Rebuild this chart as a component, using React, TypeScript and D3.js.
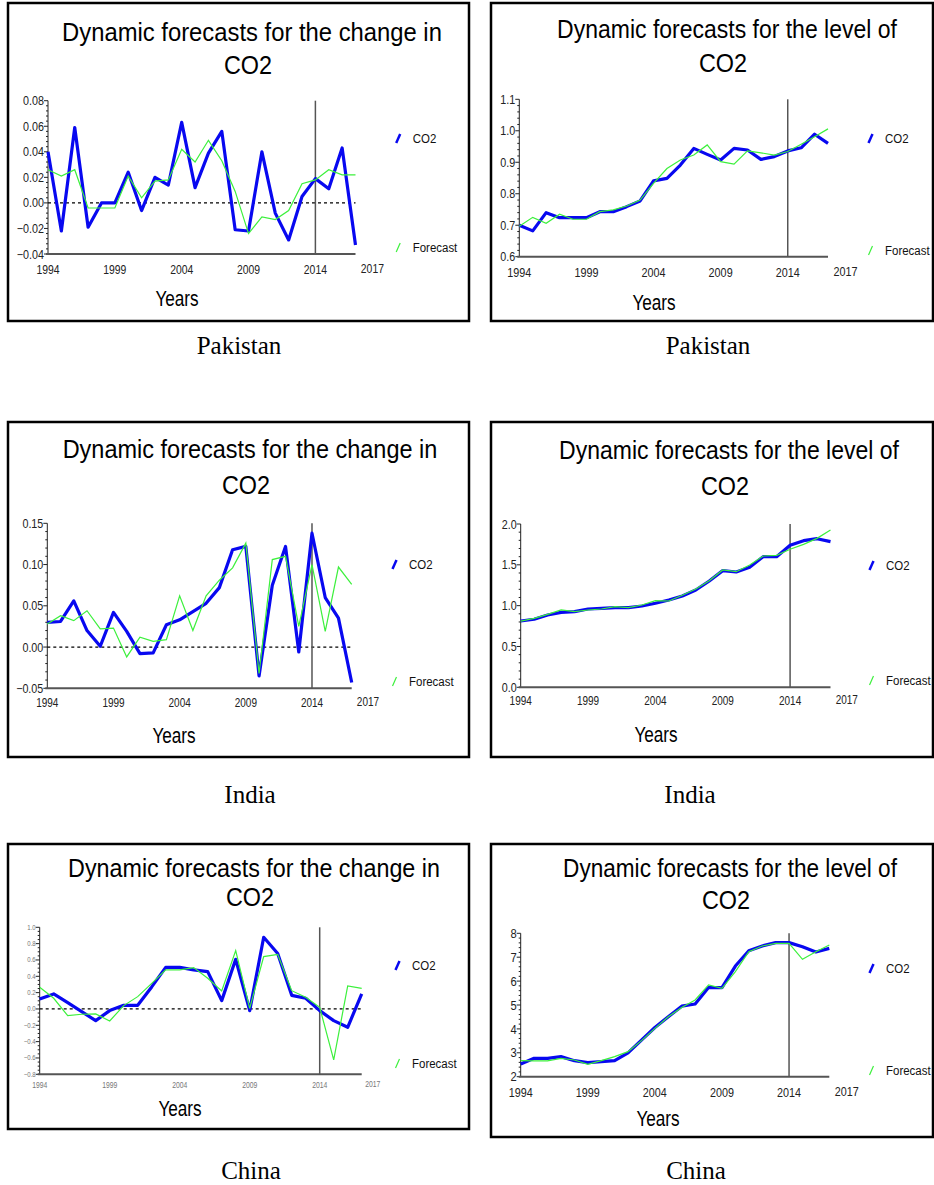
import { useEffect, useRef } from 'react';
import * as d3 from 'd3';

// years on the x axis (one point per year)
const years = [1994, 1995, 1996, 1997, 1998, 1999, 2000, 2001, 2002, 2003, 2004, 2005,
  2006, 2007, 2008, 2009, 2010, 2011, 2012, 2013, 2014, 2015, 2016, 2017];
const yearLabels = [1994, 1999, 2004, 2009, 2014];
const endYearLabel = '2017';
const splitYear = 2014;

// Pakistan
const pakChangeActual = [0.040, -0.022, 0.059, -0.019, 0.000, 0.000, 0.024, -0.006, 0.020, 0.014, 0.063, 0.012,
  0.039, 0.056, -0.021, -0.022, 0.040, -0.008, -0.029, 0.005, 0.019, 0.011, 0.043, -0.033];
const pakChangeForecast = [0.026, 0.021, 0.026, -0.004, -0.004, -0.004, 0.021, 0.004, 0.017, 0.018, 0.042, 0.032,
  0.049, 0.033, 0.009, -0.024, -0.011, -0.013, -0.006, 0.015, 0.018, 0.026, 0.022, 0.022];
const pakLevelActual = [0.700, 0.682, 0.740, 0.724, 0.724, 0.724, 0.743, 0.743, 0.759, 0.777, 0.841, 0.849,
  0.891, 0.944, 0.925, 0.907, 0.944, 0.939, 0.909, 0.918, 0.936, 0.946, 0.989, 0.960];
const pakLevelForecast = [0.697, 0.725, 0.706, 0.735, 0.719, 0.719, 0.743, 0.749, 0.761, 0.780, 0.833, 0.880,
  0.907, 0.923, 0.955, 0.902, 0.894, 0.936, 0.930, 0.923, 0.934, 0.957, 0.981, 1.006];

// India
const indChangeActual = [0.030, 0.031, 0.056, 0.020, 0.001, 0.042, 0.019, -0.008, -0.007, 0.027, 0.033, 0.043,
  0.053, 0.072, 0.118, 0.122, -0.035, 0.075, 0.122, -0.006, 0.138, 0.060, 0.035, -0.043];
const indChangeForecast = [0.028, 0.038, 0.032, 0.044, 0.022, 0.023, -0.012, 0.012, 0.007, 0.009, 0.062, 0.020,
  0.062, 0.081, 0.096, 0.126, -0.032, 0.106, 0.110, 0.025, 0.100, 0.019, 0.097, 0.076];
const indLevelActual = [0.812, 0.833, 0.886, 0.918, 0.927, 0.959, 0.967, 0.976, 0.976, 0.996, 1.029, 1.069,
  1.118, 1.192, 1.302, 1.429, 1.412, 1.470, 1.600, 1.600, 1.739, 1.796, 1.820, 1.784];
const indLevelForecast = [0.810, 0.845, 0.894, 0.947, 0.927, 0.947, 0.959, 0.988, 0.976, 1.008, 1.061, 1.057,
  1.127, 1.204, 1.306, 1.437, 1.416, 1.498, 1.608, 1.616, 1.690, 1.751, 1.824, 1.927];

// China
const chnChangeActual = [0.122, 0.184, 0.078, -0.033, -0.143, -0.020, 0.045, 0.045, 0.270, 0.510, 0.510, 0.478,
  0.457, 0.102, 0.608, -0.020, 0.878, 0.680, 0.167, 0.131, -0.020, -0.143, -0.224, 0.184];
const chnChangeForecast = [0.265, 0.131, -0.082, -0.065, -0.061, -0.147, 0.041, 0.151, 0.314, 0.478, 0.478, 0.506,
  0.376, 0.220, 0.714, 0.008, 0.641, 0.669, 0.224, 0.143, 0.020, -0.624, 0.282, 0.253];
const chnLevelActual = [2.53, 2.77, 2.77, 2.84, 2.67, 2.59, 2.63, 2.67, 3.00, 3.53, 4.06, 4.51,
  4.95, 5.04, 5.73, 5.73, 6.63, 7.27, 7.47, 7.61, 7.61, 7.44, 7.22, 7.37];
const chnLevelForecast = [2.67, 2.66, 2.66, 2.77, 2.70, 2.52, 2.67, 2.84, 3.05, 3.51, 4.02, 4.51,
  4.90, 5.21, 5.84, 5.70, 6.40, 7.23, 7.47, 7.58, 7.58, 6.91, 7.23, 7.51];

// y tick values
const pakChangeTicks = [-0.04, -0.02, 0, 0.02, 0.04, 0.06, 0.08];
const pakLevelTicks = [0.6, 0.7, 0.8, 0.9, 1.0, 1.1];
const indChangeTicks = [-0.05, 0, 0.05, 0.1, 0.15];
const indLevelTicks = [0, 0.5, 1.0, 1.5, 2.0];
const chnChangeTicks = [-0.8, -0.6, -0.4, -0.2, 0, 0.2, 0.4, 0.6, 0.8, 1.0];
const chnLevelTicks = [2, 3, 4, 5, 6, 7, 8];

const titleChange = 'Dynamic forecasts for the change in';
const titleLevel = 'Dynamic forecasts for the level of';

const BLUE = '#0808f0';
const GREEN = '#3cf03c';
const SANS = "'Liberation Sans', Arial, sans-serif";
const SERIF = "'Liberation Serif', 'Times New Roman', serif";

interface Panel {
  box: [number, number, number, number];
  title: string;
  titleX: number;
  titleY: [number, number];
  titleW: number;
  xRange: [number, number];
  yRange: [number, number];
  yTicks: number[];
  yFmt: string;
  minor: number;
  yFont: number;
  yColor: string;
  xFont: number;
  xLabelY: number;
  legendX: number;
  legendY: [number, number];
  yearsX: number;
  yearsY: number;
  caption: string;
  captionX: number;
  captionY: number;
  actual: number[];
  forecast: number[];
}

const panels: Panel[] = [
  {
    box: [8, 3, 469, 321], title: titleChange, titleX: 252, titleY: [41, 74], titleW: 380,
    xRange: [48, 355.5], yRange: [254, 100.7], yTicks: pakChangeTicks, yFmt: '.2f', minor: 5,
    yFont: 12.5, yColor: '#222', xFont: 13, xLabelY: 274, legendX: 412.7, legendY: [138, 247],
    yearsX: 177, yearsY: 306, caption: 'Pakistan', captionX: 239, captionY: 354,
    actual: pakChangeActual, forecast: pakChangeForecast,
  },
  {
    box: [491, 3, 933, 321], title: titleLevel, titleX: 727, titleY: [38, 72], titleW: 340,
    xRange: [519.3, 828], yRange: [256.7, 99.3], yTicks: pakLevelTicks, yFmt: '.1f', minor: 5,
    yFont: 12.5, yColor: '#222', xFont: 13.5, xLabelY: 277, legendX: 885, legendY: [138, 250],
    yearsX: 654, yearsY: 310, caption: 'Pakistan', captionX: 708, captionY: 354,
    actual: pakLevelActual, forecast: pakLevelForecast,
  },
  {
    box: [8, 422, 469, 757], title: titleChange, titleX: 250, titleY: [458, 494], titleW: 375,
    xRange: [47.3, 351.7], yRange: [688.3, 523.3], yTicks: indChangeTicks, yFmt: '.2f', minor: 5,
    yFont: 12.5, yColor: '#222', xFont: 12.5, xLabelY: 707, legendX: 409, legendY: [564, 681],
    yearsX: 174, yearsY: 743, caption: 'India', captionX: 250, captionY: 803,
    actual: indChangeActual, forecast: indChangeForecast,
  },
  {
    box: [491, 422, 933, 757], title: titleLevel, titleX: 729, titleY: [459, 495], titleW: 340,
    xRange: [520.7, 830.5], yRange: [687.3, 524], yTicks: indLevelTicks, yFmt: '.1f', minor: 5,
    yFont: 12.5, yColor: '#222', xFont: 12.5, xLabelY: 705, legendX: 886, legendY: [565, 680],
    yearsX: 656, yearsY: 742, caption: 'India', captionX: 690, captionY: 803,
    actual: indLevelActual, forecast: indLevelForecast,
  },
  {
    box: [8, 844, 469, 1129], title: titleChange, titleX: 254, titleY: [877, 906], titleW: 372,
    xRange: [39.7, 361.7], yRange: [1074.3, 927.3], yTicks: chnChangeTicks, yFmt: '.1f', minor: 4,
    yFont: 7, yColor: '#777', xFont: 8.5, xLabelY: 1088, legendX: 412, legendY: [965, 1063],
    yearsX: 180, yearsY: 1116, caption: 'China', captionX: 251, captionY: 1179,
    actual: chnChangeActual, forecast: chnChangeForecast,
  },
  {
    box: [491, 844, 933, 1137], title: titleLevel, titleX: 730, titleY: [877, 909], titleW: 334,
    xRange: [520.7, 829.3], yRange: [1076.7, 933.3], yTicks: chnLevelTicks, yFmt: 'd', minor: 5,
    yFont: 13, yColor: '#222', xFont: 13.5, xLabelY: 1097, legendX: 886, legendY: [968, 1070],
    yearsX: 658, yearsY: 1126, caption: 'China', captionX: 696, captionY: 1179,
    actual: chnLevelActual, forecast: chnLevelForecast,
  },
];

type Sel = d3.Selection<SVGGElement, unknown, null, undefined>;

// narrow text: scaled horizontally like the condensed EViews font
function ctext(g: Sel, x: number, y: number, str: string, size: number, anchor: string, sx: number, fill = '#000', family = SANS) {
  return g.append('text')
    .attr('transform', `translate(${x},${y}) scale(${sx},1)`)
    .attr('text-anchor', anchor)
    .attr('font-family', family)
    .attr('font-size', size)
    .attr('fill', fill)
    .text(str);
}

function drawPanel(root: Sel, p: Panel) {
  const g = root.append('g');
  const [bx0, by0, bx1, by1] = p.box;

  g.append('rect')
    .attr('x', bx0).attr('y', by0)
    .attr('width', bx1 - bx0).attr('height', by1 - by0)
    .attr('fill', '#fff').attr('stroke', '#000').attr('stroke-width', 2.5);

  // title: measure, then squeeze to the width seen in the picture
  const t1 = ctext(g, p.titleX, p.titleY[0], p.title, 26, 'middle', 1);
  const natural = (t1.node() as SVGTextElement).getComputedTextLength() || p.titleW;
  const sx = Math.min(1, p.titleW / natural);
  t1.attr('transform', `translate(${p.titleX},${p.titleY[0]}) scale(${sx},1)`);
  ctext(g, p.titleX - 4, p.titleY[1], 'CO2', 26, 'middle', 0.9);

  const x = d3.scaleLinear().domain([years[0], years[years.length - 1]]).range(p.xRange);
  const yDomain = d3.extent(p.yTicks) as [number, number];
  const y = d3.scaleLinear().domain(yDomain).range(p.yRange);
  const [yb, yt] = p.yRange;
  const x0 = p.xRange[0];
  const x1 = p.xRange[1];

  // y axis with minor ticks
  g.append('line').attr('x1', x0).attr('x2', x0).attr('y1', yt).attr('y2', yb)
    .attr('stroke', '#222').attr('stroke-width', 1);
  const step = p.yTicks[1] - p.yTicks[0];
  p.yTicks.forEach((t, i) => {
    g.append('line').attr('x1', x0 - 4).attr('x2', x0).attr('y1', y(t)).attr('y2', y(t))
      .attr('stroke', '#222').attr('stroke-width', 1);
    if (i < p.yTicks.length - 1) {
      for (let k = 1; k < p.minor; k++) {
        const v = t + (step * k) / p.minor;
        g.append('line').attr('x1', x0 - 2).attr('x2', x0).attr('y1', y(v)).attr('y2', y(v))
          .attr('stroke', '#222').attr('stroke-width', 1);
      }
    }
    ctext(g, x0 - 4, y(t) + p.yFont * 0.36, d3.format(p.yFmt)(t), p.yFont, 'end', 0.86, p.yColor);
  });

  // x axis
  g.append('line').attr('x1', x0 - 2).attr('x2', x1).attr('y1', yb).attr('y2', yb)
    .attr('stroke', '#555').attr('stroke-width', 2);
  yearLabels.forEach((yr) => {
    ctext(g, x(yr), p.xLabelY, String(yr), p.xFont, 'middle', 0.8, p.yColor);
  });
  ctext(g, x1 + p.xFont * 1.3, p.xLabelY - 1.5, endYearLabel, p.xFont, 'middle', 0.8, p.yColor);

  // zero line for the change panels
  if (yDomain[0] < 0 && yDomain[1] > 0) {
    g.append('line').attr('x1', x0).attr('x2', x1).attr('y1', y(0)).attr('y2', y(0))
      .attr('stroke', '#000').attr('stroke-width', 1.3).attr('stroke-dasharray', '3,3');
  }

  // forecast start
  g.append('line').attr('x1', x(splitYear)).attr('x2', x(splitYear)).attr('y1', yt).attr('y2', yb)
    .attr('stroke', '#555').attr('stroke-width', 1.5);

  const line = d3.line<number>().x((_, i) => x(years[i])).y((d) => y(d));
  g.append('path').datum(p.actual).attr('d', line)
    .attr('fill', 'none').attr('stroke', BLUE).attr('stroke-width', 3.2).attr('stroke-linejoin', 'round');
  g.append('path').datum(p.forecast).attr('d', line)
    .attr('fill', 'none').attr('stroke', GREEN).attr('stroke-width', 1.2);

  // legend
  const lx = p.legendX;
  [[p.legendY[0], BLUE, 2.5, 'CO2'], [p.legendY[1], GREEN, 1.2, 'Forecast']].forEach(([cy, col, w, lab]) => {
    const c = cy as number;
    g.append('line').attr('x1', lx - 16.5).attr('y1', c + 5).attr('x2', lx - 12.5).attr('y2', c - 4)
      .attr('stroke', col as string).attr('stroke-width', w as number);
    ctext(g, lx, c + 4.5, lab as string, 13.5, 'start', 0.85, '#111');
  });

  ctext(g, p.yearsX, p.yearsY, 'Years', 22, 'middle', 0.78);
  ctext(root, p.captionX, p.captionY, p.caption, 25, 'middle', 1, '#000', SERIF);
}

export default function App() {
  const svgRef = useRef<SVGSVGElement>(null);

  useEffect(() => {
    if (!svgRef.current) return;
    const svg = d3.select(svgRef.current);
    svg.selectAll('*').remove();
    const root = svg.append('g') as unknown as Sel;
    panels.forEach((p) => drawPanel(root, p));
  }, []);

  return (
    <svg
      ref={svgRef}
      width={934}
      height={1185}
      style={{ position: 'absolute', left: 0, top: 0, background: '#fff', display: 'block' }}
    />
  );
}
